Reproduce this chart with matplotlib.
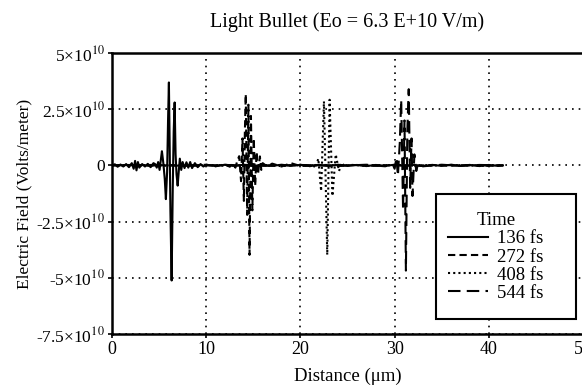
import matplotlib
matplotlib.use("Agg")
import matplotlib.pyplot as plt
from matplotlib.patches import Rectangle

plt.rcParams['font.family'] = ['Liberation Serif', 'DejaVu Serif']
plt.rcParams['mathtext.fontset'] = 'stix'

# ---- data (field in units of 1e10 V/m, distance in micrometers) ----
x_136 = [0, 0.3, 0.6, 0.9, 1.2, 1.5, 1.8, 2.1, 2.3, 2.45, 2.6, 2.75, 2.9, 3.2, 3.5, 3.8, 4.1, 4.4,
         4.6, 4.75, 4.9, 5.05, 5.2, 5.3, 5.45, 5.6, 5.72, 5.85, 5.95, 6.04, 6.12, 6.2, 6.33, 6.45,
         6.55, 6.65, 6.75, 6.85, 6.97, 7.1, 7.2, 7.35, 7.5, 7.7, 7.9, 8.1, 8.3, 8.5, 8.8, 9.1, 9.4,
         9.7, 10, 11, 12, 13, 14, 15, 16, 17, 18, 19, 20, 21, 22, 23, 24, 25, 26, 27, 28, 29, 30,
         31, 32, 33, 34, 35, 36, 37, 38, 39, 40, 41, 41.5]
y_136 = [0, 0.05, -0.06, 0.04, -0.05, 0.06, -0.08, 0.1, -0.15, 0.2, -0.22, 0.15, -0.1, 0.06, -0.05,
         0.07, -0.08, 0.1,
         0.05, -0.1, 0.15, -0.2, 0.3, 0.63, 0.1, -0.6, -1.5, -0.3, 2.0, 3.69, 1.0, -2.0, -5.12, -1.0,
         1.5, 2.8, 0.5, -0.4, -0.9, -0.2, 0.3, -0.2, 0.15, -0.12, 0.14, -0.1, 0.15, -0.12, 0.1, -0.08,
         0.06, -0.05, 0.03, -0.03, 0.03, -0.02, 0.03, -0.03, 0.02, -0.02, 0.03, -0.02, 0.02, -0.03,
         0.02, -0.02, 0.03, -0.02, 0.02, -0.03, 0.02, -0.02, 0.03, -0.02, 0.02, -0.03, 0.02, -0.02,
         0.03, -0.02, 0.02, -0.03, 0.02, -0.02, 0.0]

x_272 = [0, 2, 4, 6, 8, 10, 11, 12, 12.5, 12.8, 13.1, 13.3, 13.5, 13.7, 13.85, 14.0, 14.1, 14.2,
         14.35, 14.48, 14.6, 14.75, 14.9, 15.05, 15.2, 15.35, 15.5, 15.7, 15.85, 16.0, 16.5, 17, 18,
         19, 20, 22, 24, 26, 28, 30, 32, 34, 36, 38, 40, 41.5]
y_272 = [0, 0.02, -0.02, 0.02, -0.02, 0.03, -0.04, 0.05, -0.06, 0.08, -0.1, 0.2, 0.41, -0.7, 1.2,
         -1.58, 1.4, 3.17, -2.2, 2.7, -3.98, 2.2, -2.0, 1.2, -0.9, 0.6, -0.4, 0.4, -0.2, 0.1, -0.06,
         0.08, -0.05, 0.1, -0.03, 0.02, -0.02, 0.02, -0.02, 0.02, -0.02, 0.02, -0.02, 0.02, -0.02, 0]

x_408 = [0, 3, 6, 9, 12, 15, 18, 20, 21, 21.3, 21.6, 21.9, 22.2, 22.5, 22.85, 23.1, 23.4, 23.75,
         24.1, 24.4, 24.7, 25.2, 27, 30, 33, 36, 39, 41.5]
y_408 = [0, 0.02, -0.02, 0.02, -0.02, 0.02, -0.03, 0.03, -0.04, 0.05, -0.12, 0.3, -1.14, 2.85,
         -3.98, 2.92, -1.36, 0.49, -0.25, 0.12, -0.05, 0.03, -0.02, 0.02, -0.02, 0.02, -0.02, 0]

x_544 = [0, 4, 8, 12, 16, 20, 24, 27, 29, 29.8, 30.0, 30.2, 30.35, 30.55, 30.7, 30.9, 31.05, 31.2,
         31.35, 31.5, 31.65, 31.8, 31.9, 32.1, 32.3, 32.5, 33, 35, 37, 39, 41.5]
y_544 = [0, 0.02, -0.02, 0.02, -0.02, 0.02, -0.02, 0.03, -0.04, 0.05, -0.15, 0.35, -0.47, 1.0,
         2.92, -2.0, 2.0, -4.68, 1.5, 3.39, -1.0, 1.2, -1.36, 0.49, -0.25, 0.1, -0.04, 0.03, -0.02,
         0.02, 0]

labels = ['136 fs', '272 fs', '408 fs', '544 fs']
yticks = [5, 2.5, 0, -2.5, -5, -7.5]
ytick_labels = ['5×10$^{10}$', '2.5×10$^{10}$', '0', '-2.5×10$^{10}$',
                '-5×10$^{10}$', '-7.5×10$^{10}$']
xticks = [0, 10, 20, 30, 40, 50]

fig = plt.figure(figsize=(5.82, 3.89), dpi=100)
ax = fig.add_axes([112/582, 1-334/389, 471/582, 281/389])

styles = ['-', (0, (3.5, 2)), (0, (1, 1.5)), (0, (6, 3))]
for xs, ys, ls, lab in zip([x_136, x_272, x_408, x_544], [y_136, y_272, y_408, y_544], styles, labels):
    ax.plot(xs, ys, color='black', lw=1.5, linestyle=ls, label=lab)

ax.set_xlim(0, 50)
ax.set_ylim(-7.5, 5)
ax.set_xticks(xticks)
ax.set_xticklabels([str(v) for v in xticks], fontsize=13)
ax.set_yticks(yticks)
ax.set_yticklabels(ytick_labels, fontsize=12.5)
ax.grid(True, color='black', linestyle=(0, (1, 3)), linewidth=1.2)
for s in ['left', 'bottom', 'top']:
    ax.spines[s].set_linewidth(1.8)
ax.spines['right'].set_visible(False)
ax.tick_params(direction='out', length=3, width=1.2, colors='black', pad=2)

ax.set_title('Light Bullet (Eo = 6.3 E+10 V/m)', fontsize=14.5, pad=19)
ax.set_xlabel('Distance (μm)', fontsize=13.5, labelpad=7)
ax.set_ylabel('Electric Field (Volts/meter)', fontsize=12.5, labelpad=3)

# legend frame
ax.add_patch(Rectangle((0.688, 0.053), 0.297, 0.447, transform=ax.transAxes,
                       facecolor='white', edgecolor='black', lw=1.5, zorder=4))
leg = ax.legend(title='Time', loc='center', bbox_to_anchor=(0.815, 0.274),
                fontsize=13.5, title_fontsize=13.5, frameon=False,
                handlelength=2.1, handletextpad=0.5,
                labelspacing=0.05, borderpad=0)
leg.set_zorder(5)
leg._legend_box.align = 'center'

fig.savefig('out.png', dpi=100)
